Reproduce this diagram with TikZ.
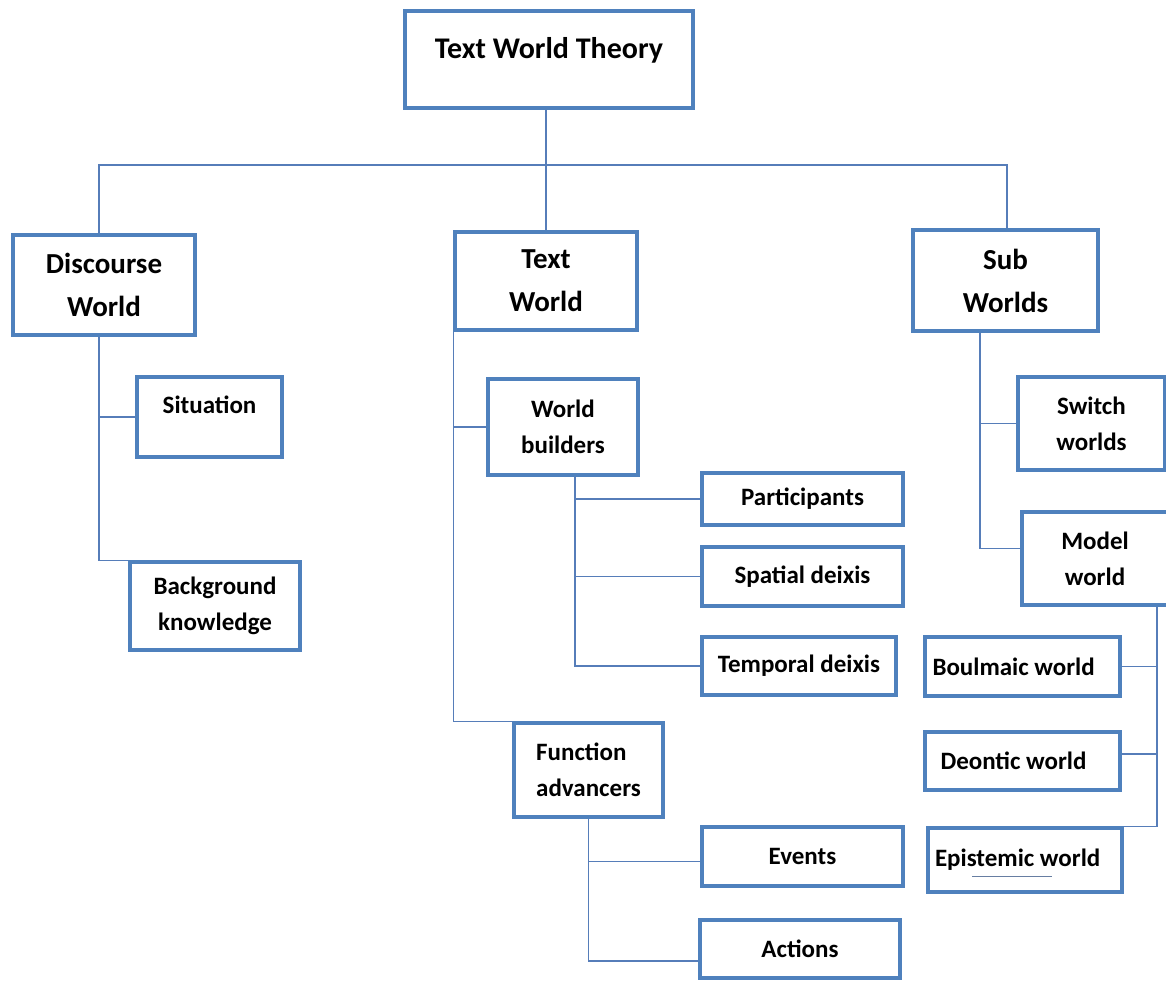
\documentclass[tikz,border=0pt]{standalone}
\usepackage{fontspec}
\setmainfont{Carlito}
\usetikzlibrary{positioning}
\definecolor{boxblue}{RGB}{79,129,189}
\definecolor{lineblue}{RGB}{86,125,185}

\begin{document}
\begin{tikzpicture}[x=1pt, y=-1pt, align=center,
        wbox/.style={draw=boxblue, line width=3.2pt, fill=white, inner sep=0pt},
        rootbox/.style={wbox, font=\fontsize{30}{43}\selectfont\bfseries},
        headbox/.style={wbox, font=\fontsize{29}{43}\selectfont\bfseries},
        leafbox/.style={wbox, font=\fontsize{25}{36}\selectfont\bfseries},
        sideleaf/.style={leafbox, text width=180pt, align=flush left},
        conn/.style={draw=lineblue, line width=1.8pt}]
        \path[use as bounding box, fill=white] (0,0) rectangle (1166,980);

        \node[rootbox, minimum width=288pt, minimum height=97pt, text height=21pt, text depth=24pt] (twt) at (549,59.5) {Text World Theory};

        \node[headbox, minimum width=182pt, minimum height=100pt] (dw) at (104,285) {Discourse\\World};
        \node[headbox, minimum width=182pt, minimum height=98pt] (tw) at (546,281) {Text\\World};
        \node[headbox, minimum width=185pt, minimum height=101pt] (sw) at (1005.5,280.5) {Sub\\Worlds};

        \node[leafbox, minimum width=145pt, minimum height=80pt, text height=18pt, text depth=26pt] (sit) at (209.5,417) {Situation};
        \node[leafbox, minimum width=170pt, minimum height=88pt] (bk) at (215,606) {Background\\knowledge};

        \node[leafbox, minimum width=150pt, minimum height=96pt] (wb) at (563,427) {World\\builders};
        \node[leafbox, minimum width=201pt, minimum height=52pt] (part) at (802.5,499) {Participants};
        \node[leafbox, minimum width=201pt, minimum height=59pt] (spat) at (802.5,576.5) {Spatial deixis};
        \node[leafbox, minimum width=194pt, minimum height=58pt] (temp) at (799,666) {Temporal deixis};
        \node[leafbox, minimum width=149pt, minimum height=94pt, align=left] (fa) at (588.5,770) {Function\\advancers};
        \node[leafbox, minimum width=201pt, minimum height=59pt] (ev) at (802.5,856.5) {Events};
        \node[leafbox, minimum width=200pt, minimum height=58pt] (act) at (800,949) {Actions};

        \node[leafbox, minimum width=147pt, minimum height=93pt] (swi) at (1091.5,423.5) {Switch\\worlds};
        \node[leafbox, minimum width=146pt, minimum height=93pt] (mw) at (1095,558.5) {Model\\world};
        \node[sideleaf, minimum width=195pt, minimum height=59pt] (bw) at (1022.5,666.5) {Boulmaic world};
        \node[sideleaf, minimum width=195pt, minimum height=58pt] (dew) at (1022.5,761) {\hspace*{8pt}Deontic world};
        \node[sideleaf, minimum width=194pt, minimum height=64pt] (ew) at (1025,860) {Epistemic world};
        \draw[lineblue!60!gray, line width=1pt] ([xshift=-53pt,yshift=-16pt]ew.center) -- ++(80,0);

        \coordinate (bus) at (549,165);
        \coordinate (dwtrunk) at ([xshift=-5pt]dw.south);
        \coordinate (wbtrunk) at ([xshift=12pt]wb.south);
        \coordinate (swtrunk) at ([xshift=-25.5pt]sw.south);
        \coordinate (mwtrunk) at ([xshift=62pt]mw.south);

        \draw[conn] (twt.south -| tw.north) -- (tw.north);
        \draw[conn] ([xshift=-5pt]dw.north) |- (bus);
        \draw[conn] ([xshift=1.5pt]sw.north) |- (bus);

        \draw[conn] (dwtrunk) |- (bk.north west);
        \draw[conn] (sit.west) -- (sit.west -| dwtrunk);

        \draw[conn] (tw.south west) |- (fa.north west);
        \draw[conn] (wb.west) -- (wb.west -| tw.south west);
        \draw[conn] (wbtrunk) |- (temp.west);
        \draw[conn] (part.west) -- (part.west -| wbtrunk);
        \draw[conn] (spat.west) -- (spat.west -| wbtrunk);
        \draw[conn] (fa.south) |- ([yshift=-12pt]act.west);
        \draw[conn] ([yshift=-5pt]ev.west) -- ([yshift=-5pt]ev.west -| fa.south);

        \draw[conn] (swtrunk) |- ([yshift=10pt]mw.west);
        \draw[conn] (swi.west) -- (swi.west -| swtrunk);
        \draw[conn] (mwtrunk) |- (ew.north east);
        \draw[conn] (bw.east) -- (bw.east -| mwtrunk);
        \draw[conn] ([yshift=7pt]dew.east) -- ([yshift=7pt]dew.east -| mwtrunk);
    \end{tikzpicture}
\end{document}
